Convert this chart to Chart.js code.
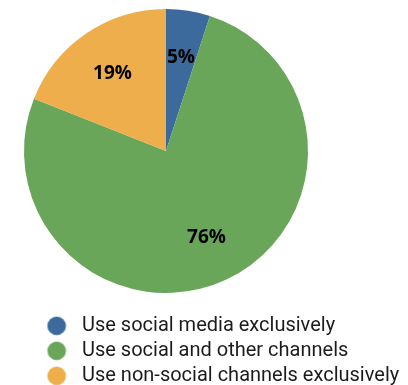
<!DOCTYPE html>
<html>
<head>
<meta charset="utf-8">
<script src="https://cdn.jsdelivr.net/npm/chart.js@4/dist/chart.umd.min.js"></script>
<style>
  html, body { margin: 0; padding: 0; background: #fff; }
  #wrap { width: 408px; height: 385px; position: relative; overflow: hidden; }
  #inner { position: absolute; left: -76px; top: 0; width: 484px; height: 385px; }
</style>
</head>
<body>
<div id="wrap"><div id="inner"><canvas id="myChart"></canvas></div></div>
<script>
const categorias = ['Use social media exclusively', 'Use social and other channels', 'Use non-social channels exclusively'];
const valores = [5, 76, 19];
const cores = ['#3c6a9d', '#6aa65a', '#edae4b'];

// bolinhas da legenda (imagem larga com o circulo deslocado a direita)
function fazBolinha(cor) {
  const c = document.createElement('canvas');
  c.width = 134;
  c.height = 20;
  const g = c.getContext('2d');
  g.fillStyle = cor;
  g.beginPath();
  g.arc(123.2, 10, 9.3, 0, Math.PI * 2);
  g.fill();
  return c;
}
const bolinhas = cores.map(fazBolinha);

const rotulosPct = {
  id: 'rotulosPct',
  afterDatasetsDraw(chart) {
    const ctx = chart.ctx;
    const meta = chart.getDatasetMeta(0);
    ctx.save();
    ctx.font = 'bold 19px "Open Sans"';
    ctx.fillStyle = '#000';
    ctx.textAlign = 'center';
    ctx.textBaseline = 'middle';
    meta.data.forEach(function (arc, i) {
      const p = arc.getProps(['x', 'y', 'startAngle', 'endAngle', 'outerRadius'], true);
      const meio = (p.startAngle + p.endAngle) / 2;
      const d = p.outerRadius * 0.67;
      ctx.fillText(valores[i] + '%', p.x + Math.cos(meio) * d, p.y + Math.sin(meio) * d + 1);
    });
    ctx.restore();
  }
};

const data = {
  labels: categorias,
  datasets: [{
    data: valores,
    backgroundColor: cores,
    borderWidth: 0
  }]
};

const config = {
  type: 'pie',
  data: data,
  options: {
    responsive: true,
    maintainAspectRatio: false,
    animation: false,
    layout: { padding: { top: 9, left: 0, right: 0, bottom: -10.8 } },
    plugins: {
      tooltip: { enabled: false },
      legend: {
        position: 'bottom',
        align: 'start',
        title: { display: true, text: '', padding: 0, font: { size: 17.8, lineHeight: 1 } },
        labels: {
          usePointStyle: true,
          pointStyleWidth: 143,
          padding: 5,
          color: '#1c1c1c',
          font: { family: 'Roboto', size: 20 },
          generateLabels(chart) {
            const itens = Chart.overrides.pie.plugins.legend.labels.generateLabels(chart);
            itens.forEach(function (it, i) { it.pointStyle = bolinhas[i]; });
            return itens;
          }
        }
      }
    }
  },
  plugins: [rotulosPct]
};

const myChart = new Chart(document.getElementById('myChart'), config);
</script>
</body>
</html>
